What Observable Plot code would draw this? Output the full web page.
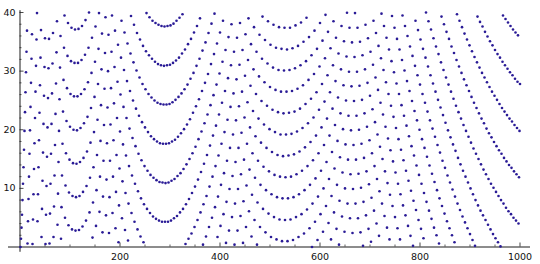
<!DOCTYPE html>
<html>
<head>
<meta charset="utf-8">
<script src="https://cdn.jsdelivr.net/npm/d3@7"></script>
<script src="https://cdn.jsdelivr.net/npm/@observablehq/plot@0.6"></script>
<style>
html, body { margin: 0; padding: 0; background: #ffffff; }
#chart svg { display: block; }
</style>
</head>
<body>
<div id="chart"></div>
<script>
// Point values: the n-th value (n = 1 … 1000) in order.
const yValues = [
0.0,1.4,3.3,5.5,8.0,10.8,13.6,16.6,19.8,23.0,
26.4,29.8,33.3,36.9,0.6,4.4,8.2,12.0,15.9,19.9,
23.9,28.0,32.1,36.3,0.5,4.7,9.0,13.3,17.7,22.0,
26.5,30.9,35.4,39.9,4.4,9.0,13.6,18.2,22.9,27.6,
32.3,37.0,1.7,6.5,11.3,16.1,21.0,25.8,30.7,35.6,
0.5,5.5,10.4,15.4,20.4,25.4,30.5,35.5,0.6,5.7,
10.8,15.9,21.0,26.2,31.3,36.5,1.7,6.9,12.2,17.4,
22.7,27.9,33.2,38.5,3.8,9.1,14.5,19.8,25.2,30.6,
36.0,1.4,6.8,12.2,17.6,23.1,28.5,34.0,39.5,5.0,
10.5,16.0,21.5,27.1,32.6,38.2,3.7,9.3,14.9,
20.5,26.1,31.7,37.4,3.0,8.7,14.3,20.0,25.7,31.4,
37.1,2.8,8.5,14.2,19.9,25.7,31.4,37.2,2.9,8.7,
14.5,20.3,26.1,31.9,37.7,3.5,9.4,15.2,21.1,26.9,
32.8,38.7,4.5,10.4,16.3,22.2,28.1,34.0,40.0,5.9,
11.8,17.8,23.7,29.7,35.7,1.6,7.6,13.6,19.6,25.6,
31.6,37.6,3.6,9.7,15.7,21.7,27.8,33.8,39.9,6.0,
12.0,18.1,24.2,30.3,36.4,2.5,8.6,14.7,20.8,27.0,
33.1,39.2,5.4,11.5,17.7,23.8,30.0,36.2,2.4,8.5,
14.7,20.9,27.1,33.3,39.5,5.8,12.0,18.2,24.5,30.7,
36.9,3.2,9.4,15.7,22.0,28.2,34.5,0.8,7.1,13.4,
19.7,26.0,32.3,38.6,4.9,11.2,17.5,23.9,30.2,36.6,
2.9,9.2,15.6,22.0,28.3,34.7,1.1,7.4,13.8,20.2,
26.6,33.0,39.4,5.8,12.2,18.6,25.0,31.5,37.9,4.3,
10.8,17.2,23.6,30.1,36.5,3.0,9.5,15.9,22.4,28.9,
35.4,1.8,8.3,14.8,21.3,27.8,34.3,0.8,7.3,13.8,
20.4,26.9,33.4,39.9,6.5,13.0,19.6,26.1,32.7,39.2,
5.8,12.3,18.9,25.5,32.1,38.6,5.2,11.8,18.4,25.0,
31.6,38.2,4.8,11.4,18.0,24.6,31.2,37.9,4.5,11.1,
17.7,24.4,31.0,37.7,4.3,11.0,17.6,24.3,30.9,37.6,
4.3,10.9,17.6,24.3,31.0,37.7,4.3,11.0,17.7,24.4,
31.1,37.8,4.5,11.3,18.0,24.7,31.4,38.1,4.9,11.6,
18.3,25.1,31.8,38.6,5.3,12.1,18.8,25.6,32.3,39.1,
5.9,12.6,19.4,26.2,33.0,39.7,6.5,13.3,20.1,26.9,
33.7,0.5,7.3,14.1,20.9,27.7,34.6,1.4,8.2,15.0,
21.8,28.7,35.5,2.3,9.2,16.0,22.9,29.7,36.6,3.4,
10.3,17.1,24.0,30.9,37.7,4.6,11.5,18.4,25.2,32.1,
39.0,5.9,12.8,19.7,26.6,33.5,0.4,7.3,14.2,21.1,
28.0,34.9,1.8,8.7,15.7,22.6,29.5,36.5,3.4,10.3,
17.3,24.2,31.2,38.1,5.0,12.0,19.0,25.9,32.9,39.8,
6.8,13.8,20.7,27.7,34.7,1.7,8.6,15.6,22.6,29.6,
36.6,3.6,10.6,17.6,24.6,31.6,38.6,5.6,12.6,19.6,
26.6,33.6,0.7,7.7,14.7,21.7,28.8,35.8,2.8,9.9,
16.9,23.9,31.0,38.0,5.1,12.1,19.2,26.2,33.3,0.4,
7.4,14.5,21.6,28.6,35.7,2.8,9.9,16.9,24.0,31.1,
38.2,5.3,12.4,19.5,26.5,33.6,0.7,7.8,14.9,22.1,
29.2,36.3,3.4,10.5,17.6,24.7,31.9,39.0,6.1,13.2,
20.4,27.5,34.6,1.8,8.9,16.0,23.2,30.3,37.5,4.6,
11.8,18.9,26.1,33.3,0.4,7.6,14.7,21.9,29.1,36.2,
3.4,10.6,17.8,24.9,32.1,39.3,6.5,13.7,20.9,28.1,
35.3,2.5,9.7,16.9,24.1,31.3,38.5,5.7,12.9,20.1,
27.3,34.5,1.7,9.0,16.2,23.4,30.6,37.9,5.1,12.3,
19.6,26.8,34.0,1.3,8.5,15.7,23.0,30.2,37.5,4.7,
12.0,19.2,26.5,33.8,1.0,8.3,15.5,22.8,30.1,37.4,
4.6,11.9,19.2,26.5,33.7,1.0,8.3,15.6,22.9,30.2,
37.4,4.7,12.0,19.3,26.6,33.9,1.2,8.5,15.8,23.1,
30.5,37.8,5.1,12.4,19.7,27.0,34.3,1.7,9.0,16.3,
23.6,31.0,38.3,5.6,13.0,20.3,27.6,35.0,2.3,9.7,
17.0,24.4,31.7,39.1,6.4,13.8,21.1,28.5,35.8,3.2,
10.6,17.9,25.3,32.7,0.0,7.4,14.8,22.1,29.5,36.9,
4.3,11.7,19.0,26.4,33.8,1.2,8.6,16.0,23.4,30.8,
38.2,5.6,13.0,20.4,27.8,35.2,2.6,10.0,17.4,24.8,
32.2,39.6,7.0,14.5,21.9,29.3,36.7,4.1,11.6,19.0,
26.4,33.9,1.3,8.7,16.2,23.6,31.0,38.5,5.9,13.4,
20.8,28.3,35.7,3.1,10.6,18.1,25.5,33.0,0.4,7.9,
15.3,22.8,30.3,37.7,5.2,12.7,20.1,27.6,35.1,2.6,
10.0,17.5,25.0,32.5,39.95,7.4,14.9,22.4,29.9,37.4,
4.9,12.4,19.9,27.4,34.9,2.4,9.9,17.4,24.9,32.4,
39.9,7.4,14.9,22.4,29.9,37.4,4.9,12.5,20.0,27.5,
35.0,2.5,10.1,17.6,25.1,32.7,0.2,7.7,15.2,22.8,
30.3,37.9,5.4,12.9,20.5,28.0,35.6,3.1,10.7,18.2,
25.8,33.3,0.9,8.4,16.0,23.5,31.1,38.6,6.2,13.8,
21.3,28.9,36.5,4.0,11.6,19.2,26.8,34.3,1.9,9.5,
17.1,24.6,32.2,39.8,7.4,15.0,22.6,30.2,37.7,5.3,
12.9,20.5,28.1,35.7,3.3,10.9,18.5,26.1,33.7,1.3,
8.9,16.5,24.1,31.7,39.4,7.0,14.6,22.2,29.8,37.4,
5.1,12.7,20.3,27.9,35.5,3.2,10.8,18.4,26.1,33.7,
1.3,9.0,16.6,24.2,31.9,39.5,7.1,14.8,22.4,30.1,
37.7,5.4,13.0,20.7,28.3,36.0,3.6,11.3,18.9,26.6,
34.2,1.9,9.6,17.2,24.9,32.6,0.2,7.9,15.6,23.2,
30.9,38.6,6.3,13.9,21.6,29.3,37.0,4.6,12.3,20.0,
27.7,35.4,3.1,10.8,18.4,26.1,33.8,1.5,9.2,16.9,
24.6,32.3,39.99,7.7,15.4,23.1,30.8,38.5,6.2,13.9,
21.6,29.3,37.1,4.8,12.5,20.2,27.9,35.6,3.3,11.1,
18.8,26.5,34.2,2.0,9.7,17.4,25.1,32.9,0.6,8.3,
16.1,23.8,31.5,39.3,7.0,14.7,22.5,30.2,38.0,5.7,
13.5,21.2,28.9,36.7,4.4,12.2,19.9,27.7,35.5,3.2,
11.0,18.7,26.5,34.2,2.0,9.8,17.5,25.3,33.1,0.8,
8.6,16.4,24.1,31.9,39.7,7.4,15.2,23.0,30.8,38.6,
6.3,14.1,21.9,29.7,37.5,5.2,13.0,20.8,28.6,36.4,
4.2,12.0,19.8,27.6,35.4,3.2,11.0,18.8,26.6,34.4,
2.2,10.0,17.8,25.6,33.4,1.2,9.0,16.8,24.6,32.4,
0.2,8.0,15.9,23.7,31.5,39.3,7.1,15.0,22.8,30.6,
38.4,6.2,14.1,21.9,29.7,37.6,5.4,13.2,21.1,28.9,
36.7,4.6,12.4,20.2,28.1,35.9,3.8,11.6,19.4,27.3,
35.1,3.0,10.8,18.7,26.5,34.4,2.2,10.1,17.9,25.8,
33.6,1.5,9.4,17.2,25.1,32.9,0.8,8.7,16.5,24.4,
32.3,0.1,8.0,15.9,23.7,31.6,39.5,7.4,15.2,23.1,
31.0,38.9,6.7,14.6,22.5,30.4,38.3,6.1,14.0,21.9,
29.8,37.7,5.6,13.5,21.4,29.3,37.1,5.0,12.9,20.8,
28.7,36.6,4.5,12.4,20.3,28.2,36.1,4.0,11.9,19.8,
27.8
];
const firstN = 1;

const xDomain = [0, 1000];
const yDomain = [0, 40];
const xMajorTicks = [200, 400, 600, 800, 1000];
const xMinorTicks = [50, 100, 150, 250, 300, 350, 450, 500, 550, 650, 700, 750, 850, 900, 950];
const yMajorTicks = [10, 20, 30, 40];
const yMinorTicks = [2, 4, 6, 8, 12, 14, 16, 18, 22, 24, 26, 28, 32, 34, 36, 38];
const xAxisExtent = [-23, 1021];
const yAxisExtent = [-0.9, 40.3];

const points = yValues.map((y, i) => ({n: firstN + i, y}));

const axisColor = "#1a1a1a";
const dotColor = "#2a1b96";
const font = "DejaVu Sans, sans-serif";

const chart = Plot.plot({
  width: 540,
  height: 264,
  marginLeft: 19.5,
  marginRight: 20.5,
  marginTop: 12,
  marginBottom: 17.5,
  x: {domain: xDomain, axis: null},
  y: {domain: yDomain, axis: null},
  style: {background: "#ffffff", fontFamily: font, overflow: "visible"},
  marks: [
    Plot.ruleY([0], {x1: xAxisExtent[0], x2: xAxisExtent[1], stroke: axisColor, strokeWidth: 1}),
    Plot.ruleX([0], {y1: yAxisExtent[0], y2: yAxisExtent[1], stroke: axisColor, strokeWidth: 1}),
    Plot.ruleX(xMajorTicks, {x: d => d, y1: 0, y2: 0, insetBottom: 4, stroke: axisColor, strokeWidth: 0.8}),
    Plot.ruleX(xMinorTicks, {x: d => d, y1: 0, y2: 0, insetBottom: 2, stroke: axisColor, strokeWidth: 0.7}),
    Plot.ruleY(yMajorTicks, {y: d => d, x1: 0, x2: 0, insetRight: -4, stroke: axisColor, strokeWidth: 0.8}),
    Plot.ruleY(yMinorTicks, {y: d => d, x1: 0, x2: 0, insetRight: -2, stroke: axisColor, strokeWidth: 0.7}),
    Plot.dot(points, {x: "n", y: "y", r: 1.3, fill: dotColor, stroke: null}),
    Plot.text(xMajorTicks, {x: d => d, y: 0, text: d => String(d), dy: 9.5, lineAnchor: "middle", fontSize: 9.5, fill: "#111"}),
    Plot.text(yMajorTicks, {x: 0, y: d => d, text: d => String(d), textAnchor: "end", dx: -4.5, fontSize: 9.5, fill: "#111"})
  ]
});
document.getElementById("chart").appendChild(chart);
</script>
</body>
</html>
